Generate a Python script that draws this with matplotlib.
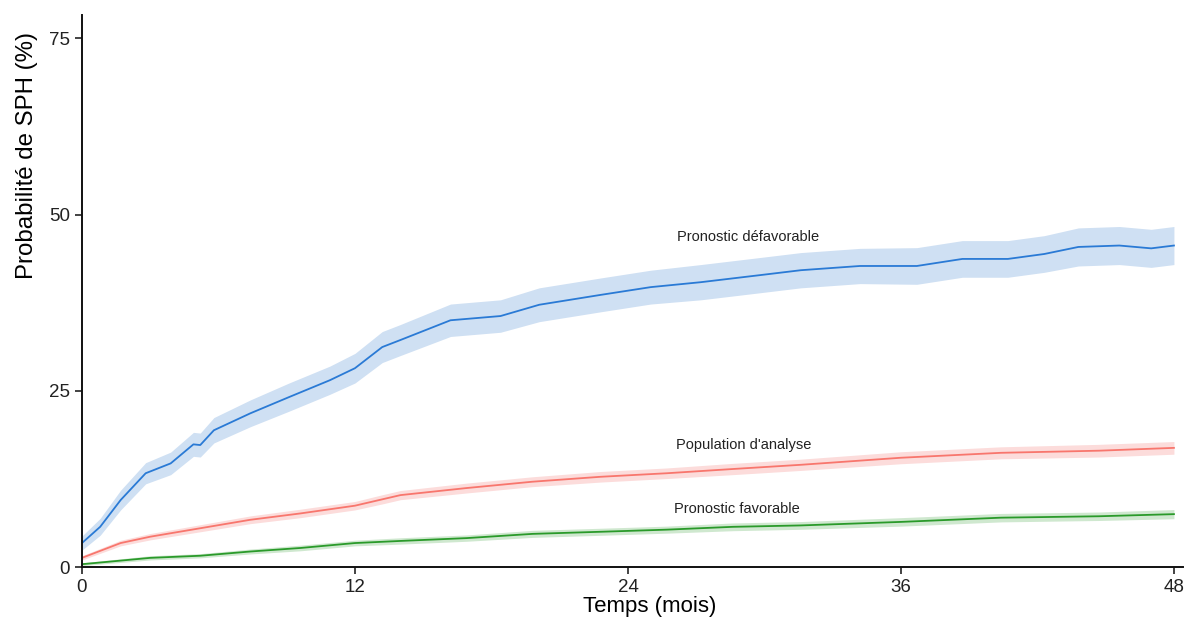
import numpy as np
import matplotlib.pyplot as plt

# courbes d'incidence cumulée de SPH (%)
t_defav = [0, 0.8, 1.7, 2.8, 3.9, 4.9, 5.2, 5.8, 7.4, 9.1, 10.9, 12.0, 13.2, 14.0,
           16.2, 18.4, 20.1, 22.8, 25.0, 27.2, 29.8, 31.6, 34.2, 36.7, 38.7, 40.7,
           42.3, 43.8, 45.6, 47.0, 48.0]
p_defav = [3.4, 5.7, 9.5, 13.3, 14.7, 17.4, 17.3, 19.4, 21.8, 24.1, 26.5, 28.2, 31.2, 32.2,
           35.0, 35.6, 37.2, 38.6, 39.7, 40.4, 41.4, 42.1, 42.7, 42.7, 43.7, 43.7,
           44.4, 45.4, 45.6, 45.2, 45.6]
ci_defav = [1.0, 1.2, 1.4, 1.5, 1.6, 1.7, 1.7, 1.8, 1.9, 2.0, 2.0, 2.1, 2.2, 2.2,
            2.3, 2.3, 2.4, 2.4, 2.4, 2.5, 2.5, 2.5, 2.5, 2.6, 2.6, 2.6,
            2.6, 2.7, 2.7, 2.7, 2.7]

t_pop = [0, 1.7, 3.0, 5.2, 7.4, 9.6, 12.0, 13.2, 14.0, 16.9, 19.8, 22.8, 25.7,
         28.6, 31.6, 36.0, 40.4, 44.7, 48.0]
p_pop = [1.3, 3.4, 4.3, 5.5, 6.7, 7.6, 8.7, 9.6, 10.2, 11.2, 12.1, 12.8, 13.3,
         13.9, 14.5, 15.5, 16.2, 16.5, 16.9]
ci_pop = [0.3, 0.4, 0.45, 0.5, 0.55, 0.6, 0.6, 0.65, 0.65, 0.7, 0.7, 0.75, 0.75,
          0.8, 0.8, 0.85, 0.85, 0.9, 0.9]

t_fav = [0, 3.0, 5.2, 7.4, 9.6, 12.0, 14.0, 16.9, 19.8, 22.8, 25.7, 28.6, 31.6,
         36.0, 40.4, 44.7, 48.0]
p_fav = [0.4, 1.3, 1.6, 2.2, 2.7, 3.4, 3.7, 4.1, 4.7, 5.0, 5.3, 5.7, 5.9,
         6.4, 7.0, 7.2, 7.5]
ci_fav = [0.2, 0.3, 0.3, 0.35, 0.4, 0.4, 0.45, 0.45, 0.5, 0.5, 0.5, 0.55, 0.55,
          0.6, 0.6, 0.6, 0.65]

labels = ["Pronostic défavorable", "Population d'analyse", "Pronostic favorable"]
lab_x = [29.3, 29.1, 28.8]
lab_y = [46.8, 17.3, 8.2]

plt.rcParams['font.family'] = ['Liberation Sans', 'DejaVu Sans']

fig = plt.figure(figsize=(11.86, 6.17), dpi=100)
ax = fig.add_axes([0.0691, 0.081, 0.9284, 0.8947])

series = [(t_defav, p_defav, ci_defav, '#2a7ad5', '#cfe0f3'),
          (t_pop, p_pop, ci_pop, '#f8766d', '#fcdcdb'),
          (t_fav, p_fav, ci_fav, '#2a9a2a', '#cfe8cf')]
for t, p, ci, col, fill in series:
    t = np.array(t); p = np.array(p); ci = np.array(ci)
    ax.fill_between(t, p - ci, p + ci, color=fill, lw=0)
    ax.plot(t, p, color=col, lw=1.3)

for s, x, y in zip(labels, lab_x, lab_y):
    ax.text(x, y, s, ha='center', va='center', fontsize=10.5,
            family=['Liberation Sans Narrow', 'Liberation Sans', 'DejaVu Sans'],
            color='#222222')

ax.set_xlim(0, 48.4)
ax.set_ylim(0, 78.3)
ax.set_xticks([0, 12, 24, 36, 48])
ax.set_yticks([0, 25, 50, 75])
ax.tick_params(labelsize=13.5, length=5, width=1.2, colors='#222222', labelcolor='#222222')
for s in ['top', 'right']:
    ax.spines[s].set_visible(False)
for s in ['left', 'bottom']:
    ax.spines[s].set_linewidth(1.4)
    ax.spines[s].set_color('#111111')

ax.set_ylabel('Probabilité de SPH (%)', fontsize=17.3)
ax.yaxis.set_label_coords(-0.040, 0.746)
ax.set_xlabel('Temps (mois)', fontsize=16)
ax.xaxis.set_label_coords(0.516, -0.052)

fig.savefig('out.png', dpi=100)
